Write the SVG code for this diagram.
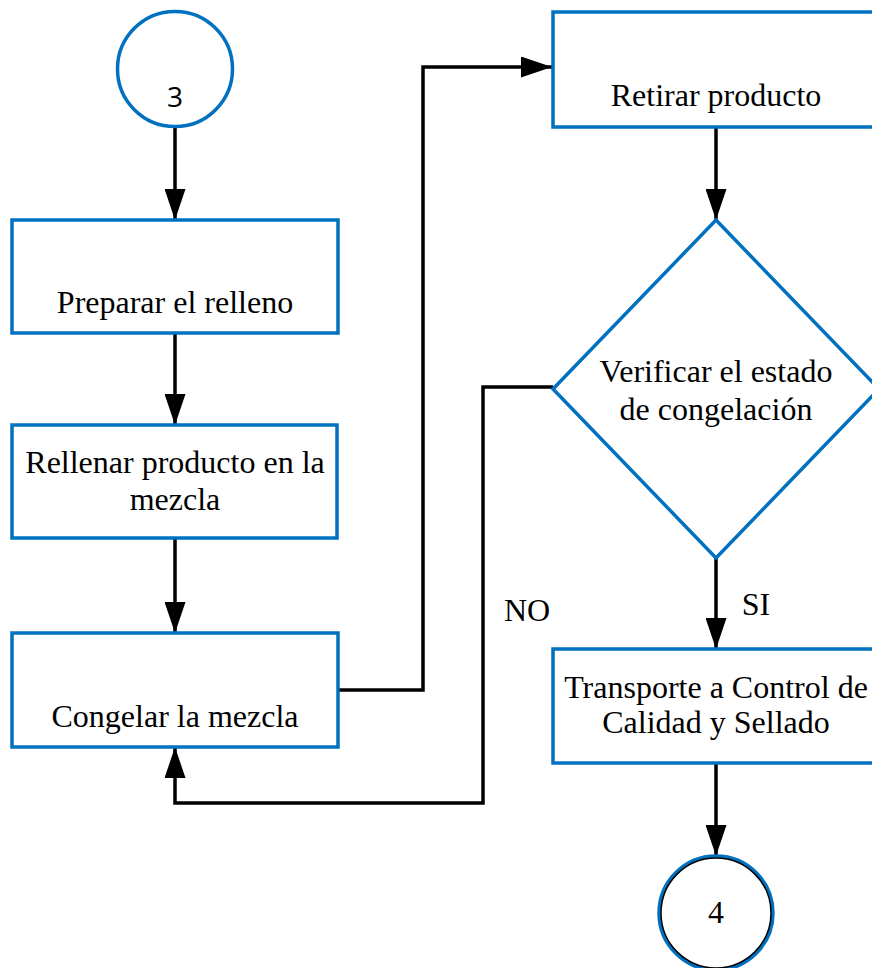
<svg xmlns="http://www.w3.org/2000/svg" width="872" height="968" viewBox="0 0 872 968">
  <style>
    .box { fill: #ffffff; stroke: #0070C0; stroke-width: 3.5; }
    .lbl { font-family: "Liberation Serif", "Times New Roman", serif; font-size: 32px; fill: #000000; text-anchor: middle; }
    .num { font-family: "Open Sans", "Liberation Sans", sans-serif; font-size: 28px; fill: #000000; text-anchor: middle; }
    .wire { fill: none; stroke: #000000; stroke-width: 3.5; stroke-linejoin: miter; }
  </style>
  <defs>
    <marker id="arrow" viewBox="0 0 31 21" refX="31" refY="10.5" markerWidth="31" markerHeight="21" markerUnits="userSpaceOnUse" orient="auto">
      <path d="M0,0 L31,10.5 L0,21 Z" fill="#000000"/>
    </marker>
  </defs>

  <rect width="872" height="968" fill="#ffffff"/>

  <!-- connectors -->
  <g id="connectors">
    <path class="wire" d="M175,127 L175,220" marker-end="url(#arrow)"/>
    <path class="wire" d="M175,333 L175,425" marker-end="url(#arrow)"/>
    <path class="wire" d="M175,538 L175,633" marker-end="url(#arrow)"/>
    <path class="wire" d="M338,690 L423,690 L423,67 L552,67" marker-end="url(#arrow)"/>
    <path class="wire" d="M716,127 L716,220" marker-end="url(#arrow)"/>
    <path class="wire" d="M553,387 L483,387 L483,803 L175,803 L175,747" marker-end="url(#arrow)"/>
    <path class="wire" d="M716,558 L716,649" marker-end="url(#arrow)"/>
    <path class="wire" d="M716,763 L716,856" marker-end="url(#arrow)"/>
    <text class="lbl" x="527" y="621">NO</text>
    <text class="lbl" x="756" y="615">SI</text>
  </g>

  <!-- connector 3 -->
  <g id="start3">
    <circle cx="175" cy="69" r="57.5" fill="#ffffff" stroke="#0070C0" stroke-width="3.5"/>
    <text class="num" x="175" y="107">3</text>
  </g>

  <g id="preparar">
    <rect class="box" x="12" y="220" width="326" height="113"/>
    <text class="lbl" x="175" y="313">Preparar el relleno</text>
  </g>

  <g id="rellenar">
    <rect class="box" x="12" y="425" width="325" height="113"/>
    <text class="lbl" x="175" y="473">Rellenar producto en la</text>
    <text class="lbl" x="175" y="510">mezcla</text>
  </g>

  <g id="congelar">
    <rect class="box" x="12" y="633" width="326" height="114"/>
    <text class="lbl" x="175" y="727">Congelar la mezcla</text>
  </g>

  <g id="retirar">
    <rect class="box" x="553" y="12" width="330" height="115"/>
    <text class="lbl" x="716" y="106">Retirar producto</text>
  </g>

  <g id="verificar">
    <polygon class="box" points="716,220 879,389 716,558 553,389"/>
    <text class="lbl" x="716" y="382">Verificar el estado</text>
    <text class="lbl" x="716" y="420">de congelación</text>
  </g>

  <g id="transporte">
    <rect class="box" x="553" y="649" width="330" height="114"/>
    <text class="lbl" x="716" y="698">Transporte a Control de</text>
    <text class="lbl" x="716" y="733">Calidad y Sellado</text>
  </g>

  <!-- connector 4 -->
  <g id="end4">
    <circle cx="716" cy="913" r="57" fill="#ffffff" stroke="#0070C0" stroke-width="3.5"/>
    <circle cx="716" cy="913" r="55" fill="none" stroke="#000000" stroke-width="1.5"/>
    <text class="lbl" x="716" y="923">4</text>
  </g>
</svg>
